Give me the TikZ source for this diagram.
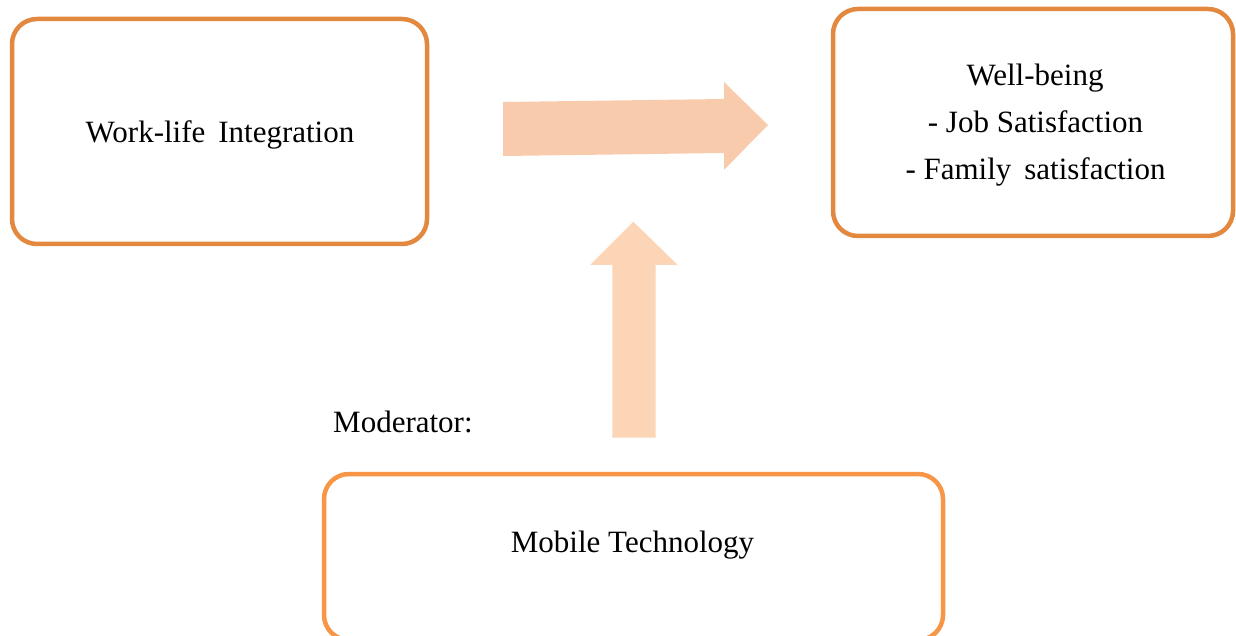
\documentclass[tikz,border=0pt]{standalone}
\usepackage{fontspec}
\setmainfont{Liberation Serif}
\definecolor{boxorange}{HTML}{E2893F}
\definecolor{boxlight}{HTML}{F79646}
\definecolor{arrowpeach}{HTML}{F8CBAD}
\definecolor{arrowsand}{HTML}{FBD5B5}
\tikzset{
  frame/.style={draw=boxorange, line width=4.5pt, rounded corners=25pt, rectangle, inner sep=0pt},
  label text/.style={anchor=base, inner sep=0pt, font=\fontsize{31}{37}\selectfont, text=black},
  block arrow/.style={draw=none},
}
\begin{document}
\begin{tikzpicture}[x=1pt, y=-1pt]
\useasboundingbox (0,0) rectangle (1236,636);

% boxes
\node[frame, minimum width=415pt, minimum height=225pt] (wli) at (219.5,131.5) {};
\node[frame, minimum width=400pt, minimum height=227pt] (wb) at (1033,122.5) {};
\node[frame, draw=boxlight, minimum width=619pt, minimum height=166pt] (mt) at (633.5,557) {};

% texts
\node[label text] (wlit) at (220,142.7) {Work-life\, Integration};
\node[label text] (wb1) at (1035,86) {Well-being};
\node[label text] (wb2) at (1035.5,132.7) {- Job Satisfaction};
\node[label text] (wb3) at (1035.5,179.3) {- Family\, satisfaction};
\node[label text] (mtt) at (632.5,552) {Mobile Technology};
\node[label text, anchor=base west] (mod) at (333,432) {Moderator:};

% block arrow: integration -> well-being
\fill[arrowpeach] (503,102) -- (724,99) -- (724,82) -- (768,125) -- (724,170)
  -- (724,153) -- (503,156) -- cycle;

% block arrow: moderator effect
\fill[arrowsand] (612.3,437.7) -- (612.3,265) -- (590,265) -- (633.3,221.7)
  -- (677.7,265) -- (655.7,265) -- (655.7,437.7) -- cycle;
\end{tikzpicture}
\end{document}
